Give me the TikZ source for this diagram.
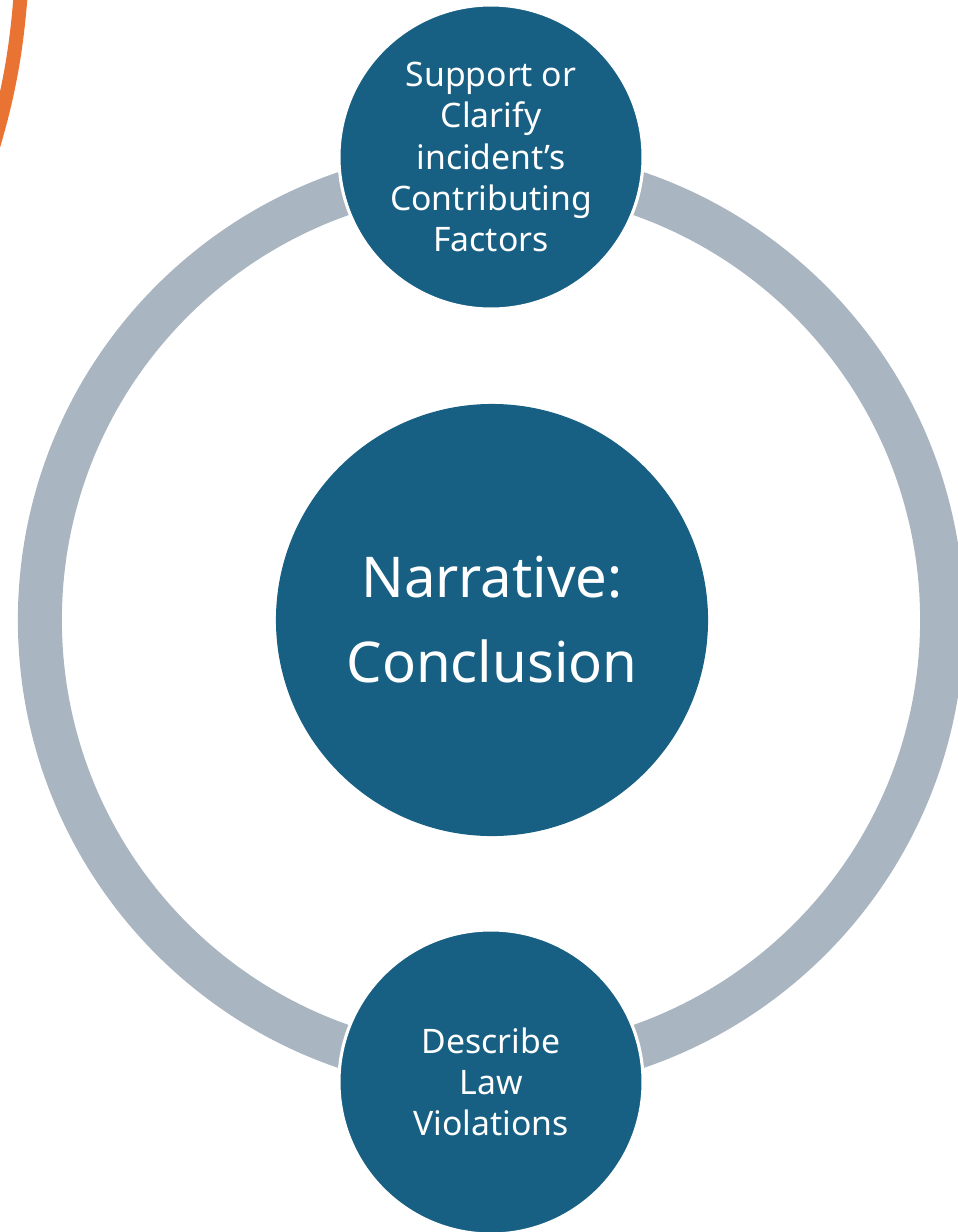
\documentclass[tikz,border=0pt]{standalone}
\usepackage{fontspec}
\setmainfont{Noto Sans}
\definecolor{ringgray}{RGB}{169,181,193}
\definecolor{stepblue}{RGB}{23,96,131}
\definecolor{accentorange}{RGB}{233,115,50}
\tikzset{
  bubble/.style = {circle, fill=stepblue, draw=white, line width=2.2pt,
                   inner sep=0pt, align=center, text=white},
  smallbubble/.style = {bubble, minimum size=7.6cm,
                   font=\fontsize{24}{29.2}\selectfont},
  bigbubble/.style = {bubble, minimum size=10.8cm, draw=none,
                   font=\fontsize{40}{60.5}\selectfont}
}
\begin{document}
\begin{tikzpicture}[x=0.025cm, y=-0.025cm]
    \useasboundingbox (0,0) rectangle (958,1232);
    \clip (0,0) rectangle (958,1232);
    % orange arc in the corner
    \draw[accentorange, line width=0.35cm] (21,-10) .. controls (17,45) and (10,90) .. (-8,150);
    % ring
    \draw[ringgray, line width=1.1cm] (491,620) circle (11.275cm);
    % circles
    \node[bigbubble] (centre) at (492,620) {Narrative:\\Conclusion};
    \node[smallbubble] (factors) at (491,157) {Support or\\Clarify\\incident’s\\Contributing\\Factors};
    \node[smallbubble] (violations) at (491,1082) {Describe\\Law\\Violations};
\end{tikzpicture}
\end{document}
